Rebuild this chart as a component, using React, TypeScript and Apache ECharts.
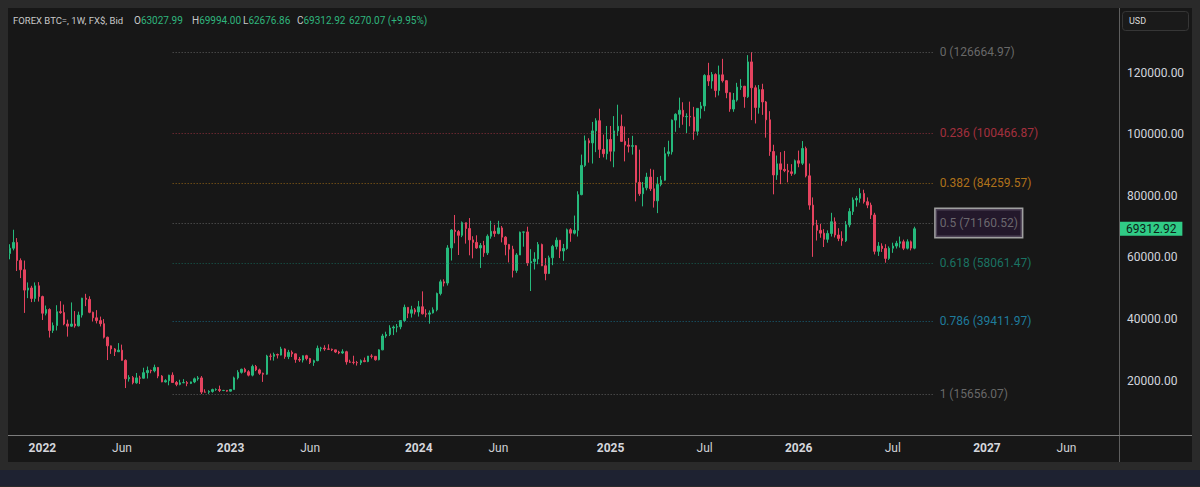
import React, { useEffect, useRef } from "react";
import * as echarts from "echarts";

// [open, high, low, close] per week
type Candle = [number, number, number, number];

const FIRST_WEEK = "2021-11-01";
const WEEK_SLOTS = 307;

const candles2021: Candle[] = [
  [61300, 64300, 59400, 63000], [63000, 69000, 62300, 64900], [64900, 66300, 55600, 59000],
  [59000, 59700, 53300, 56000], [56000, 59000, 42000, 49400], [49400, 51900, 46800, 50100],
  [50100, 50800, 45500, 46700], [46700, 51900, 45600, 50800], [50800, 52000, 45700, 47300],
];

const candles2022: Candle[] = [
  [47300, 47600, 39700, 41900], [41900, 44400, 41200, 43100], [43100, 43500, 34000, 36300],
  [36300, 38900, 35500, 37900], [37900, 44500, 36300, 42400], [42400, 45800, 41700, 42100],
  [42100, 44700, 38000, 38400], [38400, 39800, 34300, 37700], [37700, 45400, 37500, 38400],
  [38400, 42600, 37200, 37800], [37800, 42400, 37600, 41300], [41300, 46900, 40500, 46800],
  [46800, 48200, 44200, 46400], [46400, 47400, 41900, 42200], [42200, 42400, 39200, 40400],
  [40400, 42900, 38600, 39500], [39500, 40800, 37600, 38500], [38500, 40000, 33700, 34100],
  [34100, 34300, 26700, 31300], [31300, 31400, 28700, 30300], [30300, 30600, 28000, 29400],
  [29400, 32200, 29300, 29900], [29900, 31700, 26500, 26600], [26600, 26900, 17600, 20600],
  [20600, 21800, 19700, 21000], [21000, 21500, 18800, 19300], [19300, 22500, 19000, 20900],
  [20900, 21600, 18900, 20800], [20800, 24200, 20700, 22600], [22600, 24600, 20700, 23300],
  [23300, 23600, 22400, 23200], [23200, 25200, 22700, 24300], [24300, 24400, 20800, 21500],
  [21500, 21800, 19500, 19600], [19600, 20500, 19400, 20000], [20000, 21900, 18500, 21800],
  [21800, 22700, 19300, 19400], [19400, 19900, 18200, 18800], [18800, 20300, 18500, 19300],
  [19300, 20500, 19200, 19400], [19400, 19900, 18200, 19100], [19100, 19700, 18900, 19600],
  [19600, 21000, 19200, 20600], [20600, 21500, 20000, 20900], [20900, 21500, 15656.07, 16300],
  [16300, 17200, 16200, 16280], [16280, 16900, 15700, 16500], [16500, 17400, 16100, 17100],
  [17100, 17500, 16700, 17130], [17130, 18400, 16300, 16800], [16800, 17000, 16600, 16840],
  [16840, 16900, 16400, 16600],
];

const candles2023: Candle[] = [
  [16600, 17200, 16500, 17100], [17100, 21300, 17100, 20900], [20900, 23400, 20400, 22700],
  [22700, 23900, 22300, 23700], [23700, 24200, 22600, 22900], [22900, 23400, 21400, 21800],
  [21800, 25200, 21400, 24600], [24600, 25100, 23100, 23500], [23500, 23900, 21900, 22400],
  [22400, 22600, 19600, 22100], [22100, 28400, 21900, 28000], [28000, 28800, 26600, 27900],
  [27900, 29100, 26500, 28500], [28500, 28800, 27200, 28300], [28300, 31000, 28200, 30300],
  [30300, 30500, 27100, 27800], [27800, 30000, 27000, 29200], [29200, 29800, 27700, 28700],
  [28700, 28800, 25800, 26900], [26900, 27700, 26100, 26700], [26700, 28200, 25900, 28100],
  [28100, 28400, 26600, 27200], [27200, 27400, 25400, 25900], [25900, 26800, 24800, 26500],
  [26500, 31400, 26300, 30500], [30500, 31000, 29500, 30600], [30600, 31500, 29700, 30300],
  [30300, 31800, 30000, 30200], [30200, 30400, 29600, 30000], [30000, 30000, 29000, 29300],
  [29300, 29700, 28600, 29000], [29000, 30200, 28700, 29400], [29400, 29700, 25200, 26100],
  [26100, 26800, 25800, 26000], [26000, 28100, 25300, 25900], [25900, 26400, 24900, 25800],
  [25800, 26900, 25100, 26500], [26500, 27500, 26000, 26200], [26200, 28000, 26000, 28000],
  [28000, 28600, 27200, 27900], [27900, 28000, 26500, 26800], [26800, 30200, 26600, 30000],
  [30000, 35200, 29900, 34500], [34500, 35900, 33900, 35000], [35000, 38000, 34500, 37100],
  [37100, 37900, 34800, 37400], [37400, 38400, 35700, 37500], [37500, 39500, 36700, 39500],
  [39500, 44700, 39000, 43800], [43800, 43800, 40300, 41900], [41900, 44300, 40500, 43000],
  [43000, 43600, 41500, 42300],
];

const candles2024: Candle[] = [
  [42300, 45900, 40800, 44000], [44000, 49000, 41500, 41700], [41700, 43200, 40600, 41600],
  [41600, 42800, 38500, 42000], [42000, 43800, 41800, 43000], [43000, 48600, 42500, 48300],
  [48300, 52800, 47700, 52100], [52100, 52900, 50600, 51700], [51700, 64000, 50900, 63100],
  [63100, 69200, 59000, 68900], [68900, 73800, 64600, 68400], [68400, 68900, 60800, 67200],
  [67200, 71700, 66600, 71300], [71300, 71300, 64500, 69400], [69400, 72800, 60700, 65700],
  [65700, 66900, 59700, 64900], [64900, 67200, 62800, 63100], [63100, 64700, 56600, 63900],
  [63900, 65400, 60200, 61500], [61500, 67500, 60800, 66900], [66900, 71900, 66100, 68500],
  [68500, 70600, 66700, 67800], [67800, 71900, 67500, 69600], [69600, 70200, 64900, 66600],
  [66600, 66900, 60700, 64200], [64200, 64400, 58400, 62700], [62700, 63800, 53500, 55800],
  [55800, 61400, 55000, 60800], [60800, 68400, 60800, 68200], [68200, 68400, 63500, 68300],
  [68300, 70000, 57300, 58200], [58200, 62700, 49100, 58700], [58700, 61700, 56100, 59500],
  [59500, 65000, 57800, 64200], [64200, 64500, 57200, 57300], [57300, 59800, 52600, 54800],
  [54800, 60600, 54600, 59900], [59900, 64100, 57500, 63600], [63600, 66500, 62600, 65600],
  [65600, 65600, 59800, 62100], [62100, 64400, 58900, 62900], [62900, 69400, 62500, 69000],
  [69000, 69500, 65100, 67900], [67900, 73600, 67500, 68800], [68800, 81500, 66800, 80400],
  [80400, 93400, 80200, 89900], [89900, 99600, 89400, 97900], [97900, 98700, 90800, 97200],
  [97200, 104000, 90500, 101100], [101100, 105200, 94200, 104400], [104400, 108300, 92300, 95100],
  [95100, 99900, 92500, 93700], [93700, 102700, 91800, 98300],
];

const candles2025: Candle[] = [
  [98300, 102700, 91200, 94500], [94500, 105900, 89300, 101100], [101100, 109600, 99500, 102600],
  [102600, 106400, 97500, 97700], [97700, 102500, 91200, 96500], [96500, 98800, 94100, 96100],
  [96100, 99500, 93400, 96300], [96300, 96500, 78200, 84400], [84400, 95000, 80000, 80700],
  [80700, 84500, 76600, 82600], [82600, 87500, 81800, 86100], [86100, 88800, 81600, 82300],
  [82300, 88500, 76200, 78400], [78400, 86100, 74400, 83700], [83700, 86500, 83100, 85100],
  [85100, 95800, 84900, 93700], [93700, 97900, 92800, 94300], [94300, 104800, 93400, 104600],
  [104600, 106800, 100800, 106500], [106500, 111900, 102100, 107800], [107800, 110400, 103100, 105700],
  [105700, 106800, 100400, 105800], [105800, 110600, 102600, 105600], [105600, 108900, 98200, 101000],
  [101000, 108500, 99600, 108400], [108400, 110500, 105100, 109200], [109200, 119500, 107500, 119100],
  [119100, 123200, 115700, 117300], [117300, 120200, 114800, 119400], [119400, 119800, 112000, 114200],
  [114200, 122300, 112600, 119300], [119300, 124500, 116800, 117400], [117400, 117600, 111700, 113500],
  [113500, 113600, 107300, 108200], [108200, 113400, 107300, 111100], [111100, 116700, 110600, 115300],
  [115300, 117900, 114400, 115600], [115600, 115700, 108600, 112200], [112200, 125700, 111800, 123500],
  [123500, 126664.97, 104600, 115100], [115100, 115900, 103500, 108700], [108700, 116000, 106700, 114500],
  [114500, 116400, 106300, 110500], [110500, 110800, 98900, 104700], [104700, 107500, 93000, 94400],
  [94400, 96600, 80500, 86800], [86800, 93100, 85200, 90400], [90400, 94200, 83800, 88600],
  [88600, 94600, 87700, 88200], [88200, 90400, 84400, 87800], [87800, 90300, 86500, 87300],
  [87300, 91800, 86900, 91400],
];

const candles2026: Candle[] = [
  [91400, 94700, 89300, 90600], [90600, 97800, 90000, 95400], [95400, 96000, 86000, 86500],
  [86500, 90500, 75500, 77000], [77000, 79500, 60200, 70500], [70500, 72200, 65500, 68800],
  [68800, 70900, 66400, 67900], [67900, 69200, 63400, 65900], [65900, 68800, 64800, 67800],
  [67800, 74500, 66800, 71600], [71600, 73000, 66500, 67300], [67300, 69500, 65300, 66200],
  [66200, 68500, 63800, 65400], [65400, 71800, 65000, 70600], [70600, 76000, 69800, 74900],
  [74900, 79500, 73800, 78700], [78700, 80000, 76500, 79200], [79200, 82500, 77800, 80800],
  [80800, 82000, 77500, 78100], [78100, 79500, 76000, 77000], [77000, 77800, 72500, 73800],
  [73800, 74500, 61000, 62000], [62000, 65000, 60500, 63700], [63700, 64600, 61800, 62900],
  [62900, 64300, 58300, 59700], [59700, 63600, 59200, 63000], [63000, 64800, 61500, 63700],
  [63700, 65400, 62900, 64600], [64600, 66800, 63200, 65100], [65100, 65800, 62400, 63000],
  [63000, 65900, 62600, 65100], [65100, 65500, 62300, 63042.85], [63027.99, 69994.0, 62676.86, 69312.92],
];

const priceTicks = [20000, 40000, 60000, 80000, 100000, 120000];
const timeTicks: [string, string][] = [
  ["2022-01-03", "2022"], ["2022-06-06", "Jun"], ["2023-01-02", "2023"], ["2023-06-05", "Jun"],
  ["2024-01-01", "2024"], ["2024-06-03", "Jun"], ["2025-01-06", "2025"], ["2025-07-07", "Jul"],
  ["2026-01-05", "2026"], ["2026-07-06", "Jul"], ["2027-01-04", "2027"], ["2027-06-07", "Jun"],
];
const fibRatios = [0, 0.236, 0.382, 0.5, 0.618, 0.786, 1];
const FIB_FROM = "2022-09-12";
const FIB_TO = "2026-09-21";
const PRICE_MIN = 2360;
const PRICE_MAX = 141000;

const UP = "#26b97c";
const DOWN = "#e5435f";
const FONT = "Roboto, 'Noto Sans', sans-serif";

const fibLook: Record<string, { line: string; text: string; box?: boolean }> = {
  "0": { line: "#7d7d7d", text: "#8e8e8e" },
  "0.236": { line: "#c23a4c", text: "#e23c50" },
  "0.382": { line: "#c98416", text: "#f29d1c" },
  "0.5": { line: "#7d7d7d", text: "#8e8e8e", box: true },
  "0.618": { line: "#17806e", text: "#1c9d86" },
  "0.786": { line: "#1a86aa", text: "#22a9d8" },
  "1": { line: "#7d7d7d", text: "#8e8e8e" },
};

export default function App() {
  const ref = useRef<HTMLDivElement>(null);

  useEffect(() => {
    if (!ref.current) return;
    const chart = echarts.init(ref.current, null, { renderer: "svg" });

    const startMs = Date.parse(FIRST_WEEK + "T00:00:00Z");
    const weeks = Array.from({ length: WEEK_SLOTS }, (_, i) =>
      new Date(startMs + i * 7 * 86400000).toISOString().slice(0, 10)
    );
    const all: Candle[] = [
      ...candles2021, ...candles2022, ...candles2023, ...candles2024, ...candles2025, ...candles2026,
    ];
    const seriesData = all.map(([o, h, l, c]) => [o, c, l, h]);

    const hi = Math.max(...all.map((d) => d[1]));
    const lo = Math.min(...all.map((d) => d[2]));
    const last = all[all.length - 1];
    const prev = all[all.length - 2];
    const change = last[3] - prev[3];
    const pct = (change / prev[3]) * 100;

    const tickMap = new Map(timeTicks);

    const fibLines = fibRatios.map((r) => {
      const p = hi - r * (hi - lo);
      const look = fibLook[String(r)];
      const label: any = {
        show: true,
        position: "end",
        distance: look.box ? 3 : 7,
        formatter: () => `${r} (${p.toFixed(2)})`,
        color: look.text,
        fontSize: 12,
        fontFamily: FONT,
      };
      if (look.box) {
        Object.assign(label, {
          backgroundColor: "#2a1a35",
          borderColor: "#dcdcdc",
          borderWidth: 1.5,
          padding: [8, 4, 8, 4],
        });
      }
      return [
        {
          coord: [FIB_FROM, p],
          lineStyle: { color: look.line, type: [1, 2], width: 1, opacity: 0.7 },
          label,
        },
        { coord: [FIB_TO, p] },
      ];
    });

    const priceTag = {
      yAxis: last[3],
      lineStyle: { color: "rgba(0,0,0,0)", width: 0, opacity: 1 },
      label: {
        show: true,
        position: "end",
        distance: 1,
        opacity: 1,
        formatter: () => last[3].toFixed(2),
        backgroundColor: "#30cc86",
        color: "#0d2218",
        fontSize: 12,
        fontFamily: FONT,
        padding: [1, 6, 1, 6],
      },
    };

    const headerRich = {
      l: { fill: "#c9c9c9", color: "#c9c9c9", fontSize: 10, fontFamily: FONT },
      t: { fill: "#c9c9c9", color: "#c9c9c9", fontSize: 9.5, fontFamily: FONT },
      v: { fill: "#2fb57d", color: "#2fb57d", fontSize: 10, fontFamily: FONT },
    };
    const hdr = (x: number, text: string) => ({
      type: "text",
      x,
      y: 20.5,
      silent: true,
      style: { text, rich: headerRich, verticalAlign: "middle", font: `10px ${FONT}` },
    });

    const option: any = {
      animation: false,
      backgroundColor: "transparent",
      grid: { left: 8, right: 81, top: 8, bottom: 52, containLabel: false },
      xAxis: {
        type: "category",
        data: weeks,
        boundaryGap: true,
        axisLine: { show: false },
        axisTick: { show: false },
        splitLine: { show: false },
        axisLabel: {
          interval: (_i: number, v: string) => tickMap.has(v),
          hideOverlap: false,
          margin: 7,
          formatter: (v: string) => {
            const t = tickMap.get(v) ?? "";
            return /^\d{4}$/.test(t) ? `{y|${t}}` : `{m|${t}}`;
          },
          rich: {
            y: { color: "#d4d6dc", fontSize: 12, fontWeight: "bold", fontFamily: FONT },
            m: { color: "#cfd1d6", fontSize: 12, fontFamily: FONT },
          },
        },
      },
      yAxis: {
        type: "value",
        position: "right",
        min: PRICE_MIN,
        max: PRICE_MAX,
        axisLine: { show: false },
        axisTick: { show: false },
        splitLine: { show: false },
        axisLabel: {
          customValues: priceTicks,
          formatter: (v: number) => v.toFixed(2),
          color: "#d1d4dc",
          fontSize: 12,
          fontFamily: FONT,
          margin: 8,
        },
      },
      series: [
        {
          type: "candlestick",
          data: seriesData,
          barWidth: 2,
          itemStyle: {
            color: UP,
            color0: DOWN,
            borderColor: UP,
            borderColor0: DOWN,
            borderColorDoji: UP,
            borderWidth: 1,
          },
          emphasis: { disabled: true },
          markLine: {
            silent: true,
            symbol: ["none", "none"],
            animation: false,
            data: [...fibLines, priceTag],
          },
        },
      ],
      graphic: [
        {
          type: "line",
          silent: true,
          shape: { x1: 1119.5, y1: 8, x2: 1119.5, y2: 462 },
          style: { stroke: "#5e5e5e", lineWidth: 1 },
        },
        {
          type: "line",
          silent: true,
          shape: { x1: 8, y1: 435.5, x2: 1192, y2: 435.5 },
          style: { stroke: "#7c7c7c", lineWidth: 1 },
        },
        {
          type: "rect",
          silent: true,
          shape: { x: 1122.5, y: 11.5, width: 66, height: 19, r: 3 },
          style: { fill: "#1a1a1a", stroke: "#363636", lineWidth: 1 },
        },
        {
          type: "text",
          silent: true,
          x: 1129,
          y: 21,
          style: { text: "USD", fill: "#dadada", font: `9px ${FONT}`, verticalAlign: "middle" },
        },
        hdr(13, "{t|FOREX BTC=, 1W, FX$, Bid}"),
        hdr(134, `{l|O}{v|${last[0].toFixed(2)}}`),
        hdr(192, `{l|H}{v|${last[1].toFixed(2)}}`),
        hdr(243, `{l|L}{v|${last[2].toFixed(2)}}`),
        hdr(297, `{l|C}{v|${last[3].toFixed(2)}}`),
        hdr(349, `{v|${change.toFixed(2)} (${change >= 0 ? "+" : ""}${pct.toFixed(2)}%)}`),
      ],
    };

    chart.setOption(option);
    return () => chart.dispose();
  }, []);

  return (
    <div
      style={{
        position: "fixed",
        left: 0,
        top: 0,
        width: 1200,
        height: 487,
        background: "#2a2a2a",
        overflow: "hidden",
      }}
    >
      <div style={{ position: "absolute", left: 8, top: 8, width: 1184, height: 454, background: "#171717" }} />
      <div style={{ position: "absolute", left: 0, top: 470, width: 1200, height: 16, background: "#1e2231" }} />
      <div ref={ref} style={{ position: "absolute", left: 0, top: 0, width: 1200, height: 487 }} />
    </div>
  );
}
